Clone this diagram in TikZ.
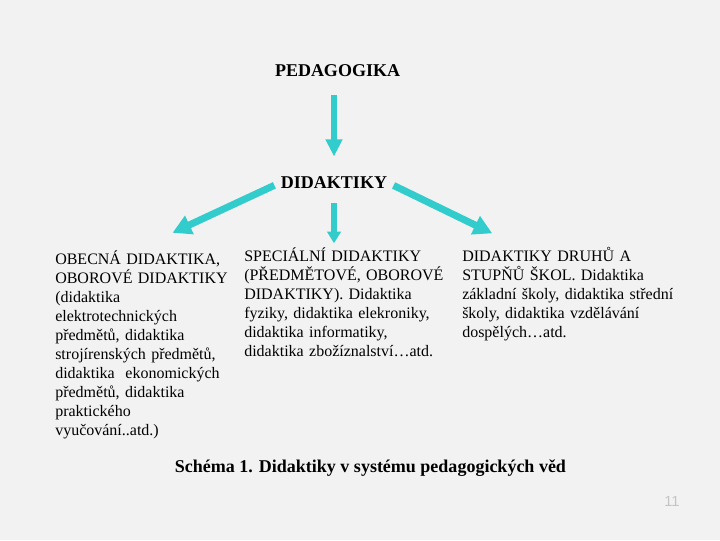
\documentclass[tikz,border=0pt]{standalone}
\usepackage{fontspec}
\setmainfont{Liberation Serif}
\newfontfamily\pgnumfont{Liberation Sans}
\usetikzlibrary{arrows.meta,calc}
\definecolor{bgcol}{HTML}{F2F2F2}
\definecolor{arrcol}{HTML}{33CCCC}
\definecolor{pgcol}{HTML}{C4C4C4}
\tikzset{
  title/.style={inner sep=0pt,anchor=base,font=\fontsize{13.5}{16}\selectfont\bfseries},
  col/.style={inner sep=0pt,anchor=north west,align=left,font=\fontsize{12}{14.25}\selectfont},
  bigarr/.style={arrcol,line width=4.5pt,-{Triangle[length=12.75pt,width=12pt]}},
  smallarr/.style={arrcol,line width=4.5pt,-{Triangle[length=8.7pt,width=10pt]}},
  sidearr/.style={arrcol,line width=5.25pt,-{Triangle[length=14pt,width=14.5pt]}}
}
\begin{document}
\begin{tikzpicture}[x=0.75pt,y=-0.75pt]
\fill[bgcol] (0,0) rectangle (720,540);
\useasboundingbox (0,0) rectangle (720,540);

\node[title] (ped) at (337.5,76) {PEDAGOGIKA};
\node[title] (did) at (334,188.3) {DIDAKTIKY};

\node[col,text width=135pt] (lft) at (55,248) {\rule{0pt}{12pt}OBECNÁ DIDAKTIKA,\\
OBOROVÉ DIDAKTIKY\\
(didaktika\\
elektrotechnických\\
předmětů, didaktika\\
strojírenských předmětů,\\
didaktika~ ekonomických\\
předmětů, didaktika\\
praktického\\
vyučování..atd.)};

\node[col,text width=154pt] (mid) at (244,245) {\rule{0pt}{12pt}SPECIÁLNÍ DIDAKTIKY\\
(PŘEDMĚTOVÉ, OBOROVÉ\\
DIDAKTIKY). Didaktika\\
fyziky, didaktika elekroniky,\\
didaktika informatiky,\\
didaktika zbožíznalství…atd.};

\node[col,text width=169pt] (rgt) at (462,245) {\rule{0pt}{12pt}DIDAKTIKY DRUHŮ A\\
STUPŇŮ ŠKOL. Didaktika\\
základní školy, didaktika střední\\
školy, didaktika vzdělávání\\
dospělých…atd.};

\node[title] (cap) at (370.5,472) {Schéma 1. Didaktiky v systému pedagogických věd};
\node[inner sep=0pt,anchor=base,font=\pgnumfont\fontsize{11}{13}\selectfont,text=pgcol] (pg) at (672,506) {11};

\draw[bigarr,shorten <=14.25pt,shorten >=14.8pt] (ped.south -| did.north) -- (did.north);
\draw[smallarr,shorten <=10.8pt,shorten >=1.3pt] (did.south) -- (did.south |- mid.north);
\draw[sidearr,shorten <=5.25pt,shorten >=27pt] (did.west) -- ($(lft.north west)!0.47!(lft.north east)$);
\draw[sidearr,shorten <=5.25pt,shorten >=20pt] (did.east) -- ($(rgt.north west)!0.24!(rgt.north east)$);
\end{tikzpicture}
\end{document}
